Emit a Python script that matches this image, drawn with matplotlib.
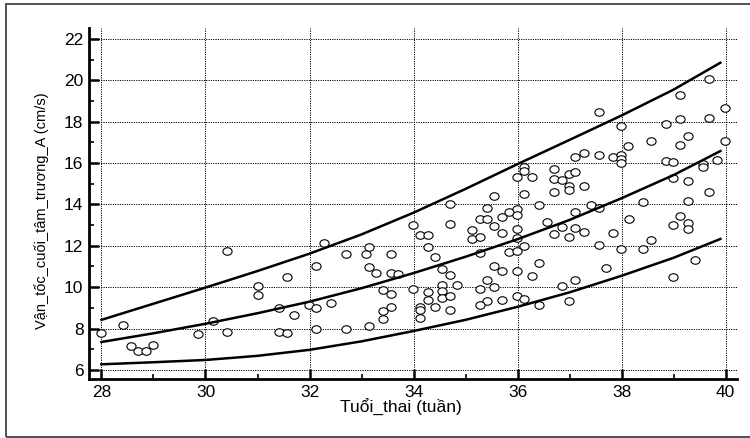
import matplotlib
matplotlib.use("Agg")
import matplotlib.pyplot as plt
from matplotlib.path import Path
from matplotlib.patches import Rectangle
from matplotlib.ticker import MultipleLocator

plt.rcParams['font.family'] = ['Liberation Sans', 'DejaVu Sans']

# tuổi thai (tuần) và vận tốc (cm/s)
tuoi_thai = [
    28.0, 28.42, 28.57, 28.71, 28.86, 29.0, 29.85, 30.14, 30.42, 30.42, 31.0, 31.0,
    31.41, 31.56, 31.71, 31.41, 31.56, 31.99, 32.13, 32.13, 32.28, 32.13, 32.42, 32.70,
    32.70, 33.09, 33.14, 33.14, 33.28, 33.14, 33.42, 33.56, 33.56, 33.56, 33.71, 33.56,
    33.42, 33.42, 33.99, 33.99,
    34.13, 34.27, 34.27, 34.41, 34.55, 34.70, 34.84, 34.55, 34.55, 34.27, 34.55, 34.70,
    34.27, 34.13, 34.13, 34.41, 34.13, 34.70,
    34.70, 34.70, 35.13, 35.27, 35.41, 35.41, 35.55, 35.55, 35.70, 35.84, 35.99, 35.99,
    35.99, 35.99, 36.13, 36.13, 36.13, 36.27, 36.41, 36.56, 36.70, 36.70, 36.70, 36.85,
    36.85, 36.99, 36.99, 36.99, 37.10, 37.10, 37.10, 37.10,
    35.13, 35.27, 35.70, 35.27, 35.55, 35.70, 35.41, 35.27, 35.55, 35.41, 35.27, 35.70,
    35.99, 36.13, 35.84, 35.99, 35.99, 36.27, 36.41, 35.99, 36.13, 36.41, 36.70, 36.99,
    36.85, 36.99, 37.10,
    37.28, 37.28, 39.69, 39.13, 37.57, 39.98, 37.99, 38.85, 39.13, 39.69, 38.56, 39.28,
    39.13, 38.13, 39.98, 37.57, 37.84, 37.99, 37.99, 37.99, 38.85, 38.99, 39.57, 39.57,
    39.84, 38.99, 39.28, 39.69,
    37.42, 37.57, 38.42, 39.28, 38.14, 39.13, 38.99, 39.28, 39.28, 37.28, 37.84, 37.57,
    37.99, 38.42, 38.56, 39.42, 37.71, 38.99,
]
van_toc = [
    7.80, 8.18, 7.16, 6.92, 6.92, 7.21, 7.73, 8.35, 7.81, 11.76, 10.06, 9.62,
    8.98, 10.47, 8.65, 7.81, 7.76, 9.16, 8.97, 11.02, 12.15, 7.98, 9.24, 11.61,
    7.98, 11.61, 11.94, 10.97, 10.68, 8.10, 9.87, 9.68, 11.61, 10.68, 10.65, 9.06,
    8.87, 8.45, 13.02, 9.89,
    12.52, 12.52, 11.94, 11.47, 10.90, 10.57, 10.09, 10.09, 9.80, 9.75, 9.49, 9.59,
    9.36, 9.04, 8.92, 9.02, 8.49, 8.92,
    14.03, 13.04, 12.74, 13.28, 13.31, 13.85, 14.40, 12.94, 13.38, 13.61, 13.77, 13.48,
    12.80, 15.33, 15.81, 15.60, 14.50, 15.31, 13.95, 13.13, 15.71, 15.24, 14.60, 15.20,
    12.93, 15.47, 14.90, 14.71, 16.31, 15.55, 13.62, 12.84,
    12.31, 12.41, 12.63, 11.66, 11.03, 10.77, 10.33, 9.93, 10.00, 9.31, 9.12, 9.36,
    12.36, 11.98, 11.69, 11.74, 10.78, 10.53, 11.17, 9.55, 9.44, 9.16, 12.57, 12.41,
    10.06, 9.31, 10.33,
    16.49, 14.89, 20.08, 19.30, 18.49, 18.68, 17.79, 17.89, 18.11, 18.16, 17.09, 17.32,
    16.85, 16.83, 17.09, 16.37, 16.29, 16.37, 16.21, 16.02, 16.10, 16.05, 15.97, 15.80,
    16.16, 15.27, 15.12, 14.60,
    13.97, 13.84, 14.13, 14.16, 13.29, 13.45, 13.00, 13.11, 12.80, 12.67, 12.62, 12.05,
    11.83, 11.83, 12.30, 11.33, 10.95, 10.48,
]

# ba đường cong (trên, giữa, dưới)
tuan_cong = [28, 29, 30, 31, 32, 33, 34, 35, 36, 37, 38, 39, 39.9]
duong_tren = [8.42, 9.2, 9.98, 10.78, 11.62, 12.55, 13.6, 14.75, 15.95, 17.12, 18.3, 19.55, 20.85]
duong_giua = [7.35, 7.77, 8.23, 8.74, 9.3, 9.95, 10.68, 11.47, 12.32, 13.25, 14.3, 15.42, 16.58]
duong_duoi = [6.27, 6.37, 6.48, 6.68, 6.97, 7.38, 7.88, 8.42, 9.05, 9.75, 10.55, 11.42, 12.33]

# vòng tròn hơi dẹt
circ = Path.unit_circle()
oval = Path(circ.vertices * [1.0, 0.82], circ.codes)

fig = plt.figure(figsize=(7.5, 4.38), dpi=100)
ax = fig.add_axes([89 / 750, 1 - 379 / 438, 648 / 750, 351 / 438])

ax.plot(tuoi_thai, van_toc, linestyle='none', marker=oval, markersize=6.6,
        markerfacecolor='white', markeredgecolor='black', markeredgewidth=0.8, zorder=3)
for yy in (duong_tren, duong_giua, duong_duoi):
    ax.plot(tuan_cong, yy, color='black', lw=1.8, zorder=4)

ax.set_xlim(27.76, 40.22)
ax.set_ylim(5.56, 22.53)
ax.xaxis.set_major_locator(MultipleLocator(2))
ax.xaxis.set_minor_locator(MultipleLocator(1))
ax.yaxis.set_major_locator(MultipleLocator(2))
ax.yaxis.set_minor_locator(MultipleLocator(1))

ax.grid(True, which='major', color='black', linestyle=(0, (1.2, 1.2)), linewidth=0.7)
ax.set_axisbelow(True)

for s in ('top', 'right'):
    ax.spines[s].set_visible(False)
for s in ('left', 'bottom'):
    ax.spines[s].set_linewidth(2.0)

ax.tick_params(which='major', direction='in', length=7, width=1.8, labelsize=12.5, pad=4)
ax.tick_params(which='minor', direction='in', length=3.5, width=1.2)

ax.set_xlabel('Tuổi_thai (tuần)', fontsize=12.5)
ax.set_ylabel('Vận_tốc_cuối_tâm_trương_A (cm/s)', fontsize=10.5)
ax.xaxis.set_label_coords(0.482, -0.056)
ax.yaxis.set_label_coords(-0.062, 0.48)

# khung ngoài
fig.patches.append(Rectangle((6 / 750, 1 / 438), 1.2, 433 / 438, transform=fig.transFigure,
                             fill=False, edgecolor='#444444', lw=1.3))

fig.savefig('out.png', dpi=100)
